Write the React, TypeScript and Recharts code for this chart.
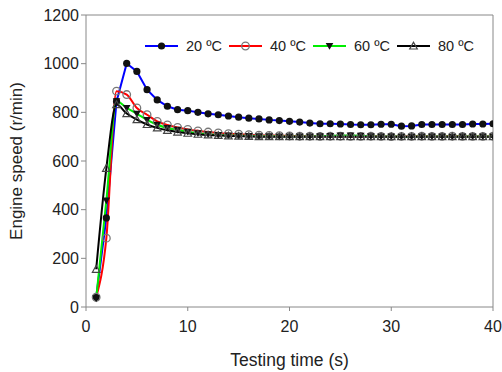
import React from 'react';
import { LineChart, Line, XAxis, YAxis, ReferenceLine } from 'recharts';

const times = [1, 2, 3, 4, 5, 6, 7, 8, 9, 10, 11, 12, 13, 14, 15, 16, 17, 18, 19, 20, 21, 22, 23, 24, 25, 26, 27, 28, 29, 30, 31, 32, 33, 34, 35, 36, 37, 38, 39, 40];
const speed20 = [40, 366, 845, 1001, 968, 893, 851, 825, 811, 807, 800, 794, 790, 785, 780, 776, 773, 769, 766, 763, 760, 756, 753, 753, 752, 750, 749, 749, 751, 751, 743, 744, 750, 750, 750, 750, 750, 752, 752, 753];
const speed40 = [40, 283, 887, 873, 818, 790, 763, 748, 738, 730, 724, 719, 715, 712, 710, 708, 706, 705, 704, 703, 702, 702, 701, 702, 702, 701, 701, 702, 701, 700, 701, 701, 702, 701, 701, 702, 701, 701, 701, 702];
const speed60 = [35, 438, 846, 818, 794, 769, 749, 736, 728, 720, 714, 710, 707, 705, 704, 703, 702, 702, 701, 701, 701, 701, 702, 703, 705, 705, 704, 702, 701, 701, 700, 700, 701, 701, 701, 700, 701, 701, 701, 701];
const speed80 = [155, 570, 832, 795, 770, 750, 736, 726, 719, 714, 710, 707, 705, 703, 702, 701, 700, 700, 700, 700, 700, 700, 700, 700, 700, 700, 700, 700, 700, 700, 700, 700, 700, 700, 700, 700, 700, 700, 700, 700];
const xTicks = [0, 10, 20, 30, 40];
const yTicks = [0, 200, 400, 600, 800, 1000, 1200];
const seriesNames = ['20 \u00baC', '40 \u00baC', '60 \u00baC', '80 \u00baC'];

const data = times.map((t, i) => ({ t, s20: speed20[i], s40: speed40[i], s60: speed60[i], s80: speed80[i] }));

const FONT = '"Liberation Sans", Arial, sans-serif';

const FilledCircle = (p: any) => (p.cx == null ? null : <circle key={`a${p.index}`} cx={p.cx} cy={p.cy} r={3.6} fill="#111" />);
const OpenCircle = (p: any) => (p.cx == null ? null : <circle key={`b${p.index}`} cx={p.cx} cy={p.cy} r={3.8} fill="none" stroke="#777" strokeWidth={1.3} />);
const DownTri = (p: any) =>
  p.cx == null ? null : (
    <polygon key={`c${p.index}`} points={`${p.cx - 3.8},${p.cy - 3} ${p.cx + 3.8},${p.cy - 3} ${p.cx},${p.cy + 3.8}`} fill="#111" />
  );
const UpTri = (p: any) =>
  p.cx == null ? null : (
    <polygon key={`d${p.index}`} points={`${p.cx - 3.8},${p.cy + 3} ${p.cx + 3.8},${p.cy + 3} ${p.cx},${p.cy - 3.8}`} fill="none" stroke="#444" strokeWidth={1.2} />
  );

const legendColors = ['#0000ff', '#ff0000', '#00ee00', '#000000'];
const legendMarkers = [FilledCircle, OpenCircle, DownTri, UpTri];

const LegendBox = () => (
  <svg width={360} height={20} style={{ position: 'absolute', left: 140, top: 36, display: 'block' }}>
    {seriesNames.map((name, i) => {
      const x0 = 5 + i * 84;
      const M = legendMarkers[i];
      return (
        <g key={name}>
          <line x1={x0} y1={10} x2={x0 + 33} y2={10} stroke={legendColors[i]} strokeWidth={2} />
          {M({ cx: x0 + 16.5, cy: 10, index: 100 + i })}
          <text x={x0 + 41} y={15} fontSize={14.5} fontFamily={FONT} fill="#222">{name}</text>
        </g>
      );
    })}
  </svg>
);

export default function App() {
  return (
    <div style={{ position: 'absolute', left: 0, top: 0, width: 502, height: 372, background: '#fff' }}>
      <LineChart width={502} height={372} data={data} margin={{ top: 15, right: 9, left: 0, bottom: 0 }}>
        <XAxis
          type="number"
          dataKey="t"
          domain={[0, 40]}
          ticks={xTicks}
          allowDataOverflow
          height={65}
          tickSize={4}
          tickMargin={10}
          stroke="#888"
          tick={{ fill: '#222', fontSize: 16, fontFamily: FONT }}
          label={{ value: 'Testing time (s)', position: 'insideBottom', offset: 6, fill: '#222', fontSize: 17.5, fontFamily: FONT }}
        />
        <YAxis
          type="number"
          domain={[0, 1200]}
          ticks={yTicks}
          allowDataOverflow
          width={86}
          tickSize={5}
          tickMargin={2}
          stroke="#888"
          tick={{ fill: '#222', fontSize: 16, fontFamily: FONT }}
          label={{ value: 'Engine speed (r/min)', angle: -90, position: 'insideLeft', offset: 16, style: { textAnchor: 'middle' }, fill: '#222', fontSize: 17, fontFamily: FONT }}
        />
        <ReferenceLine y={1200} stroke="#888" />
        <ReferenceLine x={40} stroke="#888" />
        <Line dataKey="s20" name={seriesNames[0]} stroke="#0000ff" strokeWidth={2} dot={FilledCircle} type="linear" isAnimationActive={false} />
        <Line dataKey="s40" name={seriesNames[1]} stroke="#ff0000" strokeWidth={2} dot={OpenCircle} type="monotone" isAnimationActive={false} />
        <Line dataKey="s60" name={seriesNames[2]} stroke="#00ee00" strokeWidth={2} dot={DownTri} type="monotone" isAnimationActive={false} />
        <Line dataKey="s80" name={seriesNames[3]} stroke="#000000" strokeWidth={2} dot={UpTri} type="monotone" isAnimationActive={false} />
      </LineChart>
      <LegendBox />
    </div>
  );
}
